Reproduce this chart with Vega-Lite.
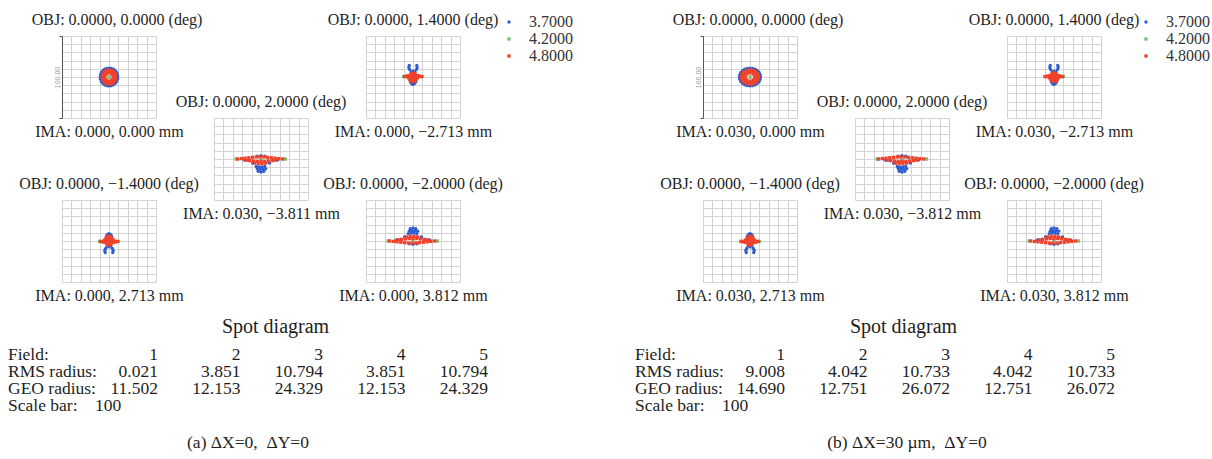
{
  "$schema": "https://vega.github.io/schema/vega-lite/v6.json",
  "background": "white",
  "padding": {"left": 8, "top": 11, "right": 0, "bottom": 0},
  "datasets": {
    "spots": [
      {"d":"1a","w":"3.7000","x":9.3,"y":0},{"d":"1a","w":"3.7000","x":8.98,"y":2.82},{"d":"1a","w":"3.7000","x":8.05,"y":5.45},{"d":"1a","w":"3.7000","x":6.58,"y":7.71},{"d":"1a","w":"3.7000","x":4.65,"y":9.44},{"d":"1a","w":"3.7000","x":2.41,"y":10.53},{"d":"1a","w":"3.7000","x":0,"y":10.9},{"d":"1a","w":"3.7000","x":-2.41,"y":10.53},{"d":"1a","w":"3.7000","x":-4.65,"y":9.44},{"d":"1a","w":"3.7000","x":-6.58,"y":7.71},{"d":"1a","w":"3.7000","x":-8.05,"y":5.45},{"d":"1a","w":"3.7000","x":-8.98,"y":2.82},{"d":"1a","w":"3.7000","x":-9.3,"y":0},{"d":"1a","w":"3.7000","x":-8.98,"y":-2.82},{"d":"1a","w":"3.7000","x":-8.05,"y":-5.45},{"d":"1a","w":"3.7000","x":-6.58,"y":-7.71},{"d":"1a","w":"3.7000","x":-4.65,"y":-9.44},{"d":"1a","w":"3.7000","x":-2.41,"y":-10.53},{"d":"1a","w":"3.7000","x":0,"y":-10.9},{"d":"1a","w":"3.7000","x":2.41,"y":-10.53},{"d":"1a","w":"3.7000","x":4.65,"y":-9.44},{"d":"1a","w":"3.7000","x":6.58,"y":-7.71},{"d":"1a","w":"3.7000","x":8.05,"y":-5.45},{"d":"1a","w":"3.7000","x":8.98,"y":-2.82},
      {"d":"1a","w":"4.2000","x":0,"y":0},
      {"d":"1a","w":"4.8000","x":7.4,"y":0},{"d":"1a","w":"4.8000","x":6.84,"y":3.33},{"d":"1a","w":"4.8000","x":5.23,"y":6.15},{"d":"1a","w":"4.8000","x":2.83,"y":8.04},{"d":"1a","w":"4.8000","x":0,"y":8.7},{"d":"1a","w":"4.8000","x":-2.83,"y":8.04},{"d":"1a","w":"4.8000","x":-5.23,"y":6.15},{"d":"1a","w":"4.8000","x":-6.84,"y":3.33},{"d":"1a","w":"4.8000","x":-7.4,"y":0},{"d":"1a","w":"4.8000","x":-6.84,"y":-3.33},{"d":"1a","w":"4.8000","x":-5.23,"y":-6.15},{"d":"1a","w":"4.8000","x":-2.83,"y":-8.04},{"d":"1a","w":"4.8000","x":0,"y":-8.7},{"d":"1a","w":"4.8000","x":2.83,"y":-8.04},{"d":"1a","w":"4.8000","x":5.23,"y":-6.15},{"d":"1a","w":"4.8000","x":6.84,"y":-3.33},
      {"d":"1a","w":"4.8000","x":5.7,"y":1.79},{"d":"1a","w":"4.8000","x":4.17,"y":4.88},{"d":"1a","w":"4.8000","x":1.53,"y":6.66},{"d":"1a","w":"4.8000","x":-1.53,"y":6.66},{"d":"1a","w":"4.8000","x":-4.17,"y":4.88},{"d":"1a","w":"4.8000","x":-5.7,"y":1.79},{"d":"1a","w":"4.8000","x":-5.7,"y":-1.79},{"d":"1a","w":"4.8000","x":-4.17,"y":-4.88},{"d":"1a","w":"4.8000","x":-1.53,"y":-6.66},{"d":"1a","w":"4.8000","x":1.53,"y":-6.66},{"d":"1a","w":"4.8000","x":4.17,"y":-4.88},{"d":"1a","w":"4.8000","x":5.7,"y":-1.79},
      {"d":"1a","w":"4.8000","x":4.3,"y":0},{"d":"1a","w":"4.8000","x":3.04,"y":3.54},{"d":"1a","w":"4.8000","x":0,"y":5},{"d":"1a","w":"4.8000","x":-3.04,"y":3.54},{"d":"1a","w":"4.8000","x":-4.3,"y":0},{"d":"1a","w":"4.8000","x":-3.04,"y":-3.54},{"d":"1a","w":"4.8000","x":0,"y":-5},{"d":"1a","w":"4.8000","x":3.04,"y":-3.54},

      {"d":"1b","w":"3.7000","x":11.2,"y":0},{"d":"1b","w":"3.7000","x":10.82,"y":2.82},{"d":"1b","w":"3.7000","x":9.7,"y":5.45},{"d":"1b","w":"3.7000","x":7.92,"y":7.71},{"d":"1b","w":"3.7000","x":5.6,"y":9.44},{"d":"1b","w":"3.7000","x":2.9,"y":10.53},{"d":"1b","w":"3.7000","x":0,"y":10.9},{"d":"1b","w":"3.7000","x":-2.9,"y":10.53},{"d":"1b","w":"3.7000","x":-5.6,"y":9.44},{"d":"1b","w":"3.7000","x":-7.92,"y":7.71},{"d":"1b","w":"3.7000","x":-9.7,"y":5.45},{"d":"1b","w":"3.7000","x":-10.82,"y":2.82},{"d":"1b","w":"3.7000","x":-11.2,"y":0},{"d":"1b","w":"3.7000","x":-10.82,"y":-2.82},{"d":"1b","w":"3.7000","x":-9.7,"y":-5.45},{"d":"1b","w":"3.7000","x":-7.92,"y":-7.71},{"d":"1b","w":"3.7000","x":-5.6,"y":-9.44},{"d":"1b","w":"3.7000","x":-2.9,"y":-10.53},{"d":"1b","w":"3.7000","x":0,"y":-10.9},{"d":"1b","w":"3.7000","x":2.9,"y":-10.53},{"d":"1b","w":"3.7000","x":5.6,"y":-9.44},{"d":"1b","w":"3.7000","x":7.92,"y":-7.71},{"d":"1b","w":"3.7000","x":9.7,"y":-5.45},{"d":"1b","w":"3.7000","x":10.82,"y":-2.82},
      {"d":"1b","w":"4.2000","x":0,"y":0},
      {"d":"1b","w":"4.8000","x":9.2,"y":0},{"d":"1b","w":"4.8000","x":8.5,"y":3.33},{"d":"1b","w":"4.8000","x":6.5,"y":6.15},{"d":"1b","w":"4.8000","x":3.52,"y":8.04},{"d":"1b","w":"4.8000","x":0,"y":8.7},{"d":"1b","w":"4.8000","x":-3.52,"y":8.04},{"d":"1b","w":"4.8000","x":-6.5,"y":6.15},{"d":"1b","w":"4.8000","x":-8.5,"y":3.33},{"d":"1b","w":"4.8000","x":-9.2,"y":0},{"d":"1b","w":"4.8000","x":-8.5,"y":-3.33},{"d":"1b","w":"4.8000","x":-6.5,"y":-6.15},{"d":"1b","w":"4.8000","x":-3.52,"y":-8.04},{"d":"1b","w":"4.8000","x":0,"y":-8.7},{"d":"1b","w":"4.8000","x":3.52,"y":-8.04},{"d":"1b","w":"4.8000","x":6.5,"y":-6.15},{"d":"1b","w":"4.8000","x":8.5,"y":-3.33},
      {"d":"1b","w":"4.8000","x":7.05,"y":1.79},{"d":"1b","w":"4.8000","x":5.16,"y":4.88},{"d":"1b","w":"4.8000","x":1.89,"y":6.66},{"d":"1b","w":"4.8000","x":-1.89,"y":6.66},{"d":"1b","w":"4.8000","x":-5.16,"y":4.88},{"d":"1b","w":"4.8000","x":-7.05,"y":1.79},{"d":"1b","w":"4.8000","x":-7.05,"y":-1.79},{"d":"1b","w":"4.8000","x":-5.16,"y":-4.88},{"d":"1b","w":"4.8000","x":-1.89,"y":-6.66},{"d":"1b","w":"4.8000","x":1.89,"y":-6.66},{"d":"1b","w":"4.8000","x":5.16,"y":-4.88},{"d":"1b","w":"4.8000","x":7.05,"y":-1.79},
      {"d":"1b","w":"4.8000","x":5,"y":0},{"d":"1b","w":"4.8000","x":3.54,"y":3.54},{"d":"1b","w":"4.8000","x":0,"y":5},{"d":"1b","w":"4.8000","x":-3.54,"y":3.54},{"d":"1b","w":"4.8000","x":-5,"y":0},{"d":"1b","w":"4.8000","x":-3.54,"y":-3.54},{"d":"1b","w":"4.8000","x":0,"y":-5},{"d":"1b","w":"4.8000","x":3.54,"y":-3.54},

      {"d":"2","w":"3.7000","x":-4,"y":14},{"d":"2","w":"3.7000","x":-4.5,"y":11.5},{"d":"2","w":"3.7000","x":-3.5,"y":9},{"d":"2","w":"3.7000","x":4,"y":14},{"d":"2","w":"3.7000","x":4.5,"y":11.5},{"d":"2","w":"3.7000","x":3.5,"y":9},{"d":"2","w":"3.7000","x":-2,"y":6},{"d":"2","w":"3.7000","x":2,"y":6},{"d":"2","w":"3.7000","x":0,"y":7},{"d":"2","w":"3.7000","x":-3,"y":-4},{"d":"2","w":"3.7000","x":3,"y":-4},{"d":"2","w":"3.7000","x":-2.5,"y":-6.5},{"d":"2","w":"3.7000","x":2.5,"y":-6.5},{"d":"2","w":"3.7000","x":0,"y":-9},{"d":"2","w":"3.7000","x":-1.5,"y":-8},{"d":"2","w":"3.7000","x":1.5,"y":-8},{"d":"2","w":"3.7000","x":0,"y":-6},
      {"d":"2","w":"4.2000","x":10,"y":0.5},{"d":"2","w":"4.2000","x":-10,"y":0.5},
      {"d":"2","w":"4.8000","x":-9,"y":0.5},{"d":"2","w":"4.8000","x":-7,"y":1},{"d":"2","w":"4.8000","x":-5,"y":1.5},{"d":"2","w":"4.8000","x":-3,"y":2},{"d":"2","w":"4.8000","x":-1,"y":2.5},{"d":"2","w":"4.8000","x":1,"y":2.5},{"d":"2","w":"4.8000","x":3,"y":2},{"d":"2","w":"4.8000","x":5,"y":1.5},{"d":"2","w":"4.8000","x":7,"y":1},{"d":"2","w":"4.8000","x":9,"y":0.5},{"d":"2","w":"4.8000","x":-5,"y":-1},{"d":"2","w":"4.8000","x":-3,"y":-1},{"d":"2","w":"4.8000","x":-1,"y":-1},{"d":"2","w":"4.8000","x":1,"y":-1},{"d":"2","w":"4.8000","x":3,"y":-1},{"d":"2","w":"4.8000","x":5,"y":-1},{"d":"2","w":"4.8000","x":-3,"y":-3.5},{"d":"2","w":"4.8000","x":-1,"y":-3.5},{"d":"2","w":"4.8000","x":1,"y":-3.5},{"d":"2","w":"4.8000","x":3,"y":-3.5},{"d":"2","w":"4.8000","x":-1.5,"y":-5.5},{"d":"2","w":"4.8000","x":1.5,"y":-5.5},{"d":"2","w":"4.8000","x":0,"y":5},{"d":"2","w":"4.8000","x":-2,"y":4},{"d":"2","w":"4.8000","x":2,"y":4},

      {"d":"4","w":"3.7000","x":-4,"y":-14},{"d":"4","w":"3.7000","x":-4.5,"y":-11.5},{"d":"4","w":"3.7000","x":-3.5,"y":-9},{"d":"4","w":"3.7000","x":4,"y":-14},{"d":"4","w":"3.7000","x":4.5,"y":-11.5},{"d":"4","w":"3.7000","x":3.5,"y":-9},{"d":"4","w":"3.7000","x":-2,"y":-6},{"d":"4","w":"3.7000","x":2,"y":-6},{"d":"4","w":"3.7000","x":0,"y":-7},{"d":"4","w":"3.7000","x":-3,"y":4},{"d":"4","w":"3.7000","x":3,"y":4},{"d":"4","w":"3.7000","x":-2.5,"y":6.5},{"d":"4","w":"3.7000","x":2.5,"y":6.5},{"d":"4","w":"3.7000","x":0,"y":9},{"d":"4","w":"3.7000","x":-1.5,"y":8},{"d":"4","w":"3.7000","x":1.5,"y":8},{"d":"4","w":"3.7000","x":0,"y":6},
      {"d":"4","w":"4.2000","x":10,"y":-0.5},{"d":"4","w":"4.2000","x":-10,"y":-0.5},
      {"d":"4","w":"4.8000","x":-9,"y":-0.5},{"d":"4","w":"4.8000","x":-7,"y":-1},{"d":"4","w":"4.8000","x":-5,"y":-1.5},{"d":"4","w":"4.8000","x":-3,"y":-2},{"d":"4","w":"4.8000","x":-1,"y":-2.5},{"d":"4","w":"4.8000","x":1,"y":-2.5},{"d":"4","w":"4.8000","x":3,"y":-2},{"d":"4","w":"4.8000","x":5,"y":-1.5},{"d":"4","w":"4.8000","x":7,"y":-1},{"d":"4","w":"4.8000","x":9,"y":-0.5},{"d":"4","w":"4.8000","x":-5,"y":1},{"d":"4","w":"4.8000","x":-3,"y":1},{"d":"4","w":"4.8000","x":-1,"y":1},{"d":"4","w":"4.8000","x":1,"y":1},{"d":"4","w":"4.8000","x":3,"y":1},{"d":"4","w":"4.8000","x":5,"y":1},{"d":"4","w":"4.8000","x":-3,"y":3.5},{"d":"4","w":"4.8000","x":-1,"y":3.5},{"d":"4","w":"4.8000","x":1,"y":3.5},{"d":"4","w":"4.8000","x":3,"y":3.5},{"d":"4","w":"4.8000","x":-1.5,"y":5.5},{"d":"4","w":"4.8000","x":1.5,"y":5.5},{"d":"4","w":"4.8000","x":0,"y":-5},{"d":"4","w":"4.8000","x":-2,"y":-4},{"d":"4","w":"4.8000","x":2,"y":-4},

      {"d":"3","w":"3.7000","x":-5,"y":-9},{"d":"3","w":"3.7000","x":-2,"y":-9.5},{"d":"3","w":"3.7000","x":1,"y":-9.5},{"d":"3","w":"3.7000","x":4,"y":-9},{"d":"3","w":"3.7000","x":-4,"y":-12},{"d":"3","w":"3.7000","x":-1,"y":-12.5},{"d":"3","w":"3.7000","x":2,"y":-12.5},{"d":"3","w":"3.7000","x":5,"y":-12},{"d":"3","w":"3.7000","x":-3,"y":-15},{"d":"3","w":"3.7000","x":0,"y":-16},{"d":"3","w":"3.7000","x":3,"y":-15},{"d":"3","w":"3.7000","x":-18,"y":-1},{"d":"3","w":"3.7000","x":-13,"y":-1.5},{"d":"3","w":"3.7000","x":13,"y":-1.5},{"d":"3","w":"3.7000","x":18,"y":-1},{"d":"3","w":"3.7000","x":-9,"y":-5},{"d":"3","w":"3.7000","x":9,"y":-5},{"d":"3","w":"3.7000","x":-4,"y":3.5},{"d":"3","w":"3.7000","x":0,"y":4},{"d":"3","w":"3.7000","x":4,"y":3.5},
      {"d":"3","w":"4.2000","x":-26.5,"y":0},{"d":"3","w":"4.2000","x":26,"y":0},{"d":"3","w":"4.2000","x":0,"y":-1.5},
      {"d":"3","w":"4.8000","x":-25,"y":0},{"d":"3","w":"4.8000","x":-21,"y":0.5},{"d":"3","w":"4.8000","x":-17,"y":1},{"d":"3","w":"4.8000","x":-13,"y":1.5},{"d":"3","w":"4.8000","x":-9,"y":2},{"d":"3","w":"4.8000","x":-5,"y":2.5},{"d":"3","w":"4.8000","x":-1,"y":2.5},{"d":"3","w":"4.8000","x":3,"y":2.5},{"d":"3","w":"4.8000","x":7,"y":2},{"d":"3","w":"4.8000","x":11,"y":1.5},{"d":"3","w":"4.8000","x":15,"y":1},{"d":"3","w":"4.8000","x":19,"y":0.5},{"d":"3","w":"4.8000","x":23,"y":0},{"d":"3","w":"4.8000","x":-16,"y":-1.5},{"d":"3","w":"4.8000","x":-12,"y":-2},{"d":"3","w":"4.8000","x":-8,"y":-2.5},{"d":"3","w":"4.8000","x":-4,"y":-3},{"d":"3","w":"4.8000","x":0,"y":-3},{"d":"3","w":"4.8000","x":4,"y":-3},{"d":"3","w":"4.8000","x":8,"y":-2.5},{"d":"3","w":"4.8000","x":12,"y":-2},{"d":"3","w":"4.8000","x":16,"y":-1.5},{"d":"3","w":"4.8000","x":-7,"y":-5},{"d":"3","w":"4.8000","x":-3,"y":-5.5},{"d":"3","w":"4.8000","x":1,"y":-5.5},{"d":"3","w":"4.8000","x":5,"y":-5},

      {"d":"5","w":"3.7000","x":-5,"y":9},{"d":"5","w":"3.7000","x":-2,"y":9.5},{"d":"5","w":"3.7000","x":1,"y":9.5},{"d":"5","w":"3.7000","x":4,"y":9},{"d":"5","w":"3.7000","x":-4,"y":12},{"d":"5","w":"3.7000","x":-1,"y":12.5},{"d":"5","w":"3.7000","x":2,"y":12.5},{"d":"5","w":"3.7000","x":5,"y":12},{"d":"5","w":"3.7000","x":-3,"y":15},{"d":"5","w":"3.7000","x":0,"y":16},{"d":"5","w":"3.7000","x":3,"y":15},{"d":"5","w":"3.7000","x":-18,"y":1},{"d":"5","w":"3.7000","x":-13,"y":1.5},{"d":"5","w":"3.7000","x":13,"y":1.5},{"d":"5","w":"3.7000","x":18,"y":1},{"d":"5","w":"3.7000","x":-9,"y":5},{"d":"5","w":"3.7000","x":9,"y":5},{"d":"5","w":"3.7000","x":-4,"y":-3.5},{"d":"5","w":"3.7000","x":0,"y":-4},{"d":"5","w":"3.7000","x":4,"y":-3.5},
      {"d":"5","w":"4.2000","x":-26.5,"y":0},{"d":"5","w":"4.2000","x":26,"y":0},{"d":"5","w":"4.2000","x":0,"y":1.5},
      {"d":"5","w":"4.8000","x":-25,"y":0},{"d":"5","w":"4.8000","x":-21,"y":-0.5},{"d":"5","w":"4.8000","x":-17,"y":-1},{"d":"5","w":"4.8000","x":-13,"y":-1.5},{"d":"5","w":"4.8000","x":-9,"y":-2},{"d":"5","w":"4.8000","x":-5,"y":-2.5},{"d":"5","w":"4.8000","x":-1,"y":-2.5},{"d":"5","w":"4.8000","x":3,"y":-2.5},{"d":"5","w":"4.8000","x":7,"y":-2},{"d":"5","w":"4.8000","x":11,"y":-1.5},{"d":"5","w":"4.8000","x":15,"y":-1},{"d":"5","w":"4.8000","x":19,"y":-0.5},{"d":"5","w":"4.8000","x":23,"y":0},{"d":"5","w":"4.8000","x":-16,"y":1.5},{"d":"5","w":"4.8000","x":-12,"y":2},{"d":"5","w":"4.8000","x":-8,"y":2.5},{"d":"5","w":"4.8000","x":-4,"y":3},{"d":"5","w":"4.8000","x":0,"y":3},{"d":"5","w":"4.8000","x":4,"y":3},{"d":"5","w":"4.8000","x":8,"y":2.5},{"d":"5","w":"4.8000","x":12,"y":2},{"d":"5","w":"4.8000","x":16,"y":1.5},{"d":"5","w":"4.8000","x":-7,"y":5},{"d":"5","w":"4.8000","x":-3,"y":5.5},{"d":"5","w":"4.8000","x":1,"y":5.5},{"d":"5","w":"4.8000","x":5,"y":5}
    ],
    "tabA": [
      {"r":"Field:","c":1,"v":"1"},{"r":"Field:","c":2,"v":"2"},{"r":"Field:","c":3,"v":"3"},{"r":"Field:","c":4,"v":"4"},{"r":"Field:","c":5,"v":"5"},
      {"r":"RMS radius:","c":1,"v":"0.021"},{"r":"RMS radius:","c":2,"v":"3.851"},{"r":"RMS radius:","c":3,"v":"10.794"},{"r":"RMS radius:","c":4,"v":"3.851"},{"r":"RMS radius:","c":5,"v":"10.794"},
      {"r":"GEO radius:","c":1,"v":"11.502"},{"r":"GEO radius:","c":2,"v":"12.153"},{"r":"GEO radius:","c":3,"v":"24.329"},{"r":"GEO radius:","c":4,"v":"12.153"},{"r":"GEO radius:","c":5,"v":"24.329"}
    ],
    "tabB": [
      {"r":"Field:","c":1,"v":"1"},{"r":"Field:","c":2,"v":"2"},{"r":"Field:","c":3,"v":"3"},{"r":"Field:","c":4,"v":"4"},{"r":"Field:","c":5,"v":"5"},
      {"r":"RMS radius:","c":1,"v":"9.008"},{"r":"RMS radius:","c":2,"v":"4.042"},{"r":"RMS radius:","c":3,"v":"10.733"},{"r":"RMS radius:","c":4,"v":"4.042"},{"r":"RMS radius:","c":5,"v":"10.733"},
      {"r":"GEO radius:","c":1,"v":"14.690"},{"r":"GEO radius:","c":2,"v":"12.751"},{"r":"GEO radius:","c":3,"v":"26.072"},{"r":"GEO radius:","c":4,"v":"12.751"},{"r":"GEO radius:","c":5,"v":"26.072"}
    ],
    "rows": [
      {"r":"Field:","t":"Field:"},{"r":"RMS radius:","t":"RMS radius:"},{"r":"GEO radius:","t":"GEO radius:"},{"r":"Scale bar:","t":"Scale bar:\u00a0\u00a0\u00a0\u00a0100"}
    ],
    "blank": [{"k": 1}]
  },
  "concat": [
    {
      "width": 94, "height": 82,
      "title": {"text": "OBJ: 0.0000, 0.0000 (deg)", "dx": 8},
      "data": {"name": "spots"},
      "transform": [{"filter": {"field": "d", "equal": "1a"}}],
      "mark": {"type": "point", "filled": true, "opacity": 1, "size": 11},
      "encoding": {
        "x": {"field": "x", "type": "quantitative", "scale": {"domain": [-50, 50]}, "axis": {"title": "IMA: 0.000, 0.000 mm"}},
        "y": {"field": "y", "type": "quantitative", "scale": {"domain": [-50, 50]}, "axis": {"title": "100.00", "domain": true, "domainColor": "#555555", "ticks": true, "tickSize": 3, "tickColor": "#555555", "tickOpacity": {"condition": {"test": "abs(datum.value) == 50", "value": 1}, "value": 0}, "titleFont": "Liberation Sans", "titleFontSize": 7, "titleColor": "#999999", "titlePadding": -2}},
        "color": {"field": "w", "type": "nominal", "scale": {"domain": ["3.7000", "4.2000", "4.8000"]}, "legend": null},
        "shape": {"field": "w", "type": "nominal", "scale": {"domain": ["3.7000", "4.2000", "4.8000"]}, "legend": null}
      }
    },
    {"width": 94, "height": 82, "data": {"name": "blank"}, "mark": {"type": "text", "text": ""}, "encoding": {}},
    {
      "width": 94, "height": 82,
      "title": {"text": "OBJ: 0.0000, 1.4000 (deg)", "offset": -14},
      "data": {"name": "spots"},
      "transform": [{"filter": {"field": "d", "equal": "2"}}],
      "mark": {"type": "point", "filled": true, "opacity": 1, "size": 11},
      "encoding": {
        "x": {"field": "x", "type": "quantitative", "scale": {"domain": [-50, 50]}, "axis": {"title": "IMA: 0.000, \u22122.713 mm"}},
        "y": {"field": "y", "type": "quantitative", "scale": {"domain": [-50, 50]}, "axis": {"title": null}},
        "color": {"field": "w", "type": "nominal", "scale": {"domain": ["3.7000", "4.2000", "4.8000"]}, "legend": {"title": null, "orient": "none", "legendX": 135, "legendY": -22}},
        "shape": {"field": "w", "type": "nominal", "scale": {"domain": ["3.7000", "4.2000", "4.8000"]}, "legend": {"title": null, "orient": "none", "legendX": 135, "legendY": -22}}
      }
    },
    {"width": 127, "height": 82, "data": {"name": "blank"}, "mark": {"type": "text", "text": ""}, "encoding": {}},
    {
      "width": 94, "height": 82,
      "title": {"text": "OBJ: 0.0000, 0.0000 (deg)", "dx": 8},
      "data": {"name": "spots"},
      "transform": [{"filter": {"field": "d", "equal": "1b"}}],
      "mark": {"type": "point", "filled": true, "opacity": 1, "size": 11},
      "encoding": {
        "x": {"field": "x", "type": "quantitative", "scale": {"domain": [-50, 50]}, "axis": {"title": "IMA: 0.030, 0.000 mm"}},
        "y": {"field": "y", "type": "quantitative", "scale": {"domain": [-50, 50]}, "axis": {"title": "100.00", "domain": true, "domainColor": "#555555", "ticks": true, "tickSize": 3, "tickColor": "#555555", "tickOpacity": {"condition": {"test": "abs(datum.value) == 50", "value": 1}, "value": 0}, "titleFont": "Liberation Sans", "titleFontSize": 7, "titleColor": "#999999", "titlePadding": -2}},
        "color": {"field": "w", "type": "nominal", "scale": {"domain": ["3.7000", "4.2000", "4.8000"]}, "legend": null},
        "shape": {"field": "w", "type": "nominal", "scale": {"domain": ["3.7000", "4.2000", "4.8000"]}, "legend": null}
      }
    },
    {"width": 94, "height": 82, "data": {"name": "blank"}, "mark": {"type": "text", "text": ""}, "encoding": {}},
    {
      "width": 94, "height": 82,
      "title": {"text": "OBJ: 0.0000, 1.4000 (deg)", "offset": -14},
      "data": {"name": "spots"},
      "transform": [{"filter": {"field": "d", "equal": "2"}}],
      "mark": {"type": "point", "filled": true, "opacity": 1, "size": 11},
      "encoding": {
        "x": {"field": "x", "type": "quantitative", "scale": {"domain": [-50, 50]}, "axis": {"title": "IMA: 0.030, \u22122.713 mm"}},
        "y": {"field": "y", "type": "quantitative", "scale": {"domain": [-50, 50]}, "axis": {"title": null}},
        "color": {"field": "w", "type": "nominal", "scale": {"domain": ["3.7000", "4.2000", "4.8000"]}, "legend": {"title": null, "orient": "none", "legendX": 131, "legendY": -22}},
        "shape": {"field": "w", "type": "nominal", "scale": {"domain": ["3.7000", "4.2000", "4.8000"]}, "legend": {"title": null, "orient": "none", "legendX": 131, "legendY": -22}}
      }
    },

    {"width": 94, "height": 82, "data": {"name": "blank"}, "mark": {"type": "text", "text": ""}, "encoding": {}},
    {
      "width": 94, "height": 82,
      "title": {"text": "OBJ: 0.0000, 2.0000 (deg)"},
      "data": {"name": "spots"},
      "transform": [{"filter": {"field": "d", "equal": "3"}}],
      "mark": {"type": "point", "filled": true, "opacity": 1, "size": 11},
      "encoding": {
        "x": {"field": "x", "type": "quantitative", "scale": {"domain": [-50, 50]}, "axis": {"title": "IMA: 0.030, \u22123.811 mm"}},
        "y": {"field": "y", "type": "quantitative", "scale": {"domain": [-50, 50]}, "axis": {"title": null}},
        "color": {"field": "w", "type": "nominal", "scale": {"domain": ["3.7000", "4.2000", "4.8000"]}, "legend": null},
        "shape": {"field": "w", "type": "nominal", "scale": {"domain": ["3.7000", "4.2000", "4.8000"]}, "legend": null}
      }
    },
    {"width": 94, "height": 82, "data": {"name": "blank"}, "mark": {"type": "text", "text": ""}, "encoding": {}},
    {"width": 127, "height": 82, "data": {"name": "blank"}, "mark": {"type": "text", "text": ""}, "encoding": {}},
    {"width": 94, "height": 82, "data": {"name": "blank"}, "mark": {"type": "text", "text": ""}, "encoding": {}},
    {
      "width": 94, "height": 82,
      "title": {"text": "OBJ: 0.0000, 2.0000 (deg)"},
      "data": {"name": "spots"},
      "transform": [{"filter": {"field": "d", "equal": "3"}}],
      "mark": {"type": "point", "filled": true, "opacity": 1, "size": 11},
      "encoding": {
        "x": {"field": "x", "type": "quantitative", "scale": {"domain": [-50, 50]}, "axis": {"title": "IMA: 0.030, \u22123.812 mm"}},
        "y": {"field": "y", "type": "quantitative", "scale": {"domain": [-50, 50]}, "axis": {"title": null}},
        "color": {"field": "w", "type": "nominal", "scale": {"domain": ["3.7000", "4.2000", "4.8000"]}, "legend": null},
        "shape": {"field": "w", "type": "nominal", "scale": {"domain": ["3.7000", "4.2000", "4.8000"]}, "legend": null}
      }
    },
    {"width": 94, "height": 82, "data": {"name": "blank"}, "mark": {"type": "text", "text": ""}, "encoding": {}},

    {
      "width": 94, "height": 82,
      "title": {"text": "OBJ: 0.0000, \u22121.4000 (deg)"},
      "data": {"name": "spots"},
      "transform": [{"filter": {"field": "d", "equal": "4"}}],
      "mark": {"type": "point", "filled": true, "opacity": 1, "size": 11},
      "encoding": {
        "x": {"field": "x", "type": "quantitative", "scale": {"domain": [-50, 50]}, "axis": {"title": "IMA: 0.000, 2.713 mm"}},
        "y": {"field": "y", "type": "quantitative", "scale": {"domain": [-50, 50]}, "axis": {"title": null}},
        "color": {"field": "w", "type": "nominal", "scale": {"domain": ["3.7000", "4.2000", "4.8000"]}, "legend": null},
        "shape": {"field": "w", "type": "nominal", "scale": {"domain": ["3.7000", "4.2000", "4.8000"]}, "legend": null}
      }
    },
    {"width": 94, "height": 82, "data": {"name": "blank"}, "mark": {"type": "text", "text": ""}, "encoding": {}},
    {
      "width": 94, "height": 82,
      "title": {"text": "OBJ: 0.0000, \u22122.0000 (deg)"},
      "data": {"name": "spots"},
      "transform": [{"filter": {"field": "d", "equal": "5"}}],
      "mark": {"type": "point", "filled": true, "opacity": 1, "size": 11},
      "encoding": {
        "x": {"field": "x", "type": "quantitative", "scale": {"domain": [-50, 50]}, "axis": {"title": "IMA: 0.000, 3.812 mm"}},
        "y": {"field": "y", "type": "quantitative", "scale": {"domain": [-50, 50]}, "axis": {"title": null}},
        "color": {"field": "w", "type": "nominal", "scale": {"domain": ["3.7000", "4.2000", "4.8000"]}, "legend": null},
        "shape": {"field": "w", "type": "nominal", "scale": {"domain": ["3.7000", "4.2000", "4.8000"]}, "legend": null}
      }
    },
    {"width": 127, "height": 82, "data": {"name": "blank"}, "mark": {"type": "text", "text": ""}, "encoding": {}},
    {
      "width": 94, "height": 82,
      "title": {"text": "OBJ: 0.0000, \u22121.4000 (deg)"},
      "data": {"name": "spots"},
      "transform": [{"filter": {"field": "d", "equal": "4"}}],
      "mark": {"type": "point", "filled": true, "opacity": 1, "size": 11},
      "encoding": {
        "x": {"field": "x", "type": "quantitative", "scale": {"domain": [-50, 50]}, "axis": {"title": "IMA: 0.030, 2.713 mm"}},
        "y": {"field": "y", "type": "quantitative", "scale": {"domain": [-50, 50]}, "axis": {"title": null}},
        "color": {"field": "w", "type": "nominal", "scale": {"domain": ["3.7000", "4.2000", "4.8000"]}, "legend": null},
        "shape": {"field": "w", "type": "nominal", "scale": {"domain": ["3.7000", "4.2000", "4.8000"]}, "legend": null}
      }
    },
    {"width": 94, "height": 82, "data": {"name": "blank"}, "mark": {"type": "text", "text": ""}, "encoding": {}},
    {
      "width": 94, "height": 82,
      "title": {"text": "OBJ: 0.0000, \u22122.0000 (deg)"},
      "data": {"name": "spots"},
      "transform": [{"filter": {"field": "d", "equal": "5"}}],
      "mark": {"type": "point", "filled": true, "opacity": 1, "size": 11},
      "encoding": {
        "x": {"field": "x", "type": "quantitative", "scale": {"domain": [-50, 50]}, "axis": {"title": "IMA: 0.030, 3.812 mm"}},
        "y": {"field": "y", "type": "quantitative", "scale": {"domain": [-50, 50]}, "axis": {"title": null}},
        "color": {"field": "w", "type": "nominal", "scale": {"domain": ["3.7000", "4.2000", "4.8000"]}, "legend": null},
        "shape": {"field": "w", "type": "nominal", "scale": {"domain": ["3.7000", "4.2000", "4.8000"]}, "legend": null}
      }
    },

    {"width": 94, "height": 63.5, "data": {"name": "blank"}, "mark": {"type": "text", "text": ""}, "encoding": {}},
    {"width": 94, "height": 63.5, "data": {"name": "blank"}, "mark": {"type": "text", "text": ""}, "encoding": {}},
    {"width": 94, "height": 63.5, "data": {"name": "blank"}, "mark": {"type": "text", "text": ""}, "encoding": {}},
    {"width": 127, "height": 63.5, "data": {"name": "blank"}, "mark": {"type": "text", "text": ""}, "encoding": {}},
    {"width": 94, "height": 63.5, "data": {"name": "blank"}, "mark": {"type": "text", "text": ""}, "encoding": {}},
    {"width": 94, "height": 63.5, "data": {"name": "blank"}, "mark": {"type": "text", "text": ""}, "encoding": {}},
    {"width": 94, "height": 63.5, "data": {"name": "blank"}, "mark": {"type": "text", "text": ""}, "encoding": {}},

    {
      "width": 94, "height": 68,
      "title": {"text": "(a) \u0394X=0,\u00a0\u00a0\u0394Y=0", "orient": "bottom", "frame": "group", "anchor": "middle", "dx": 139, "fontSize": 17.5, "baseline": "top", "offset": 20},
      "layer": [
        {
          "data": {"name": "tabA"},
          "mark": {"type": "text", "align": "right", "fontSize": 17.5},
          "encoding": {
            "x": {"field": "c", "type": "quantitative", "scale": {"domain": [-0.1636, 0.9758], "nice": false, "zero": false}, "axis": {"orient": "top", "title": "Spot diagram", "titleFontSize": 20, "titlePadding": 10, "titleX": 213, "grid": false}},
            "y": {"field": "r", "type": "nominal", "scale": {"domain": ["Field:", "RMS radius:", "GEO radius:", "Scale bar:"]}, "axis": null},
            "text": {"field": "v"}
          }
        },
        {
          "data": {"name": "rows"},
          "mark": {"type": "text", "align": "left", "fontSize": 17.5},
          "encoding": {
            "x": {"datum": -0.818, "type": "quantitative"},
            "y": {"field": "r", "type": "nominal", "scale": {"domain": ["Field:", "RMS radius:", "GEO radius:", "Scale bar:"]}, "axis": null},
            "text": {"field": "t"}
          }
        }
      ]
    },
    {"width": 94, "height": 68, "data": {"name": "blank"}, "mark": {"type": "text", "text": ""}, "encoding": {}},
    {"width": 94, "height": 68, "data": {"name": "blank"}, "mark": {"type": "text", "text": ""}, "encoding": {}},
    {"width": 127, "height": 68, "data": {"name": "blank"}, "mark": {"type": "text", "text": ""}, "encoding": {}},
    {
      "width": 94, "height": 68,
      "title": {"text": "(b) \u0394X=30 \u00b5m,\u00a0\u00a0\u0394Y=0", "orient": "bottom", "frame": "group", "anchor": "middle", "dx": 157, "fontSize": 17.5, "baseline": "top", "offset": 20},
      "layer": [
        {
          "data": {"name": "tabB"},
          "mark": {"type": "text", "align": "right", "fontSize": 17.5},
          "encoding": {
            "x": {"field": "c", "type": "quantitative", "scale": {"domain": [0.0061, 1.1455], "nice": false, "zero": false}, "axis": {"orient": "top", "title": "Spot diagram", "titleFontSize": 20, "titlePadding": 10, "titleX": 200, "grid": false}},
            "y": {"field": "r", "type": "nominal", "scale": {"domain": ["Field:", "RMS radius:", "GEO radius:", "Scale bar:"]}, "axis": null},
            "text": {"field": "v"}
          }
        },
        {
          "data": {"name": "rows"},
          "mark": {"type": "text", "align": "left", "fontSize": 17.5},
          "encoding": {
            "x": {"datum": -0.818, "type": "quantitative"},
            "y": {"field": "r", "type": "nominal", "scale": {"domain": ["Field:", "RMS radius:", "GEO radius:", "Scale bar:"]}, "axis": null},
            "text": {"field": "t"}
          }
        }
      ]
    }
  ],
  "columns": 7,
  "spacing": {"row": 0, "column": 58},
  "align": "each",
  "bounds": "flush",
  "resolve": {"scale": {"color": "independent", "shape": "independent"}, "legend": {"color": "independent", "shape": "independent"}},
  "config": {
    "font": "Liberation Serif",
    "view": {"stroke": null},
    "title": {"font": "Liberation Serif", "fontSize": 16, "fontWeight": "normal", "color": "#1e1e1e", "baseline": "alphabetic", "offset": 8},
    "axis": {"labels": false, "ticks": false, "domain": false, "gridColor": "#d3d3d3", "gridWidth": 1, "gridOpacity": 1, "tickCount": 10, "titleFont": "Liberation Serif", "titleFontSize": 16, "titleFontWeight": "normal", "titleColor": "#1e1e1e", "titlePadding": 5},
    "range": {"category": ["#2b5bd1", "#72c472", "#f0422b"], "symbol": ["circle", "square", "square"]},
    "legend": {"labelFont": "Liberation Serif", "labelFontSize": 16, "labelColor": "#333333", "symbolSize": 11, "rowPadding": 1, "labelOffset": 12, "padding": 0},
    "text": {"font": "Liberation Serif", "color": "#1e1e1e"}
  }
}
